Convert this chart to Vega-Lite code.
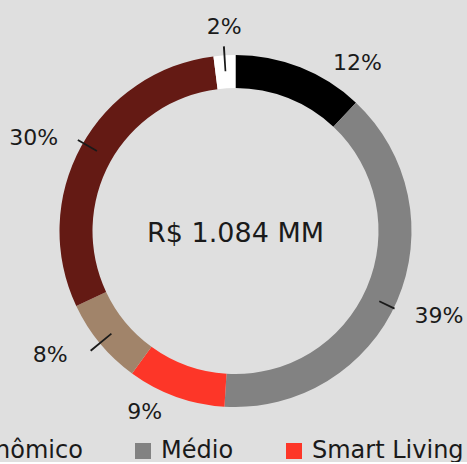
{
  "$schema": "https://vega.github.io/schema/vega-lite/v6.json",
  "width": 463,
  "height": 462,
  "padding": {"left": 4, "top": 0, "right": 0, "bottom": 0},
  "autosize": {"type": "none"},
  "background": "#dfdfdf",
  "title": {"text": "(VGV Estimado por tipo)", "fontSize": 22, "font": "DejaVu Sans", "fontWeight": "normal", "color": "#1a1a1a", "anchor": "middle", "orient": "top", "frame": "group", "offset": -2, "baseline": "alphabetic", "dx": -16},
  "config": {"view": {"stroke": null}, "font": "DejaVu Sans"},
  "data": {"values": [
    {"segmento": "Econômico", "pct": 12, "rotulo": "12%", "ordem": 1},
    {"segmento": "Médio", "pct": 39, "rotulo": "39%", "ordem": 2},
    {"segmento": "Smart Living", "pct": 9, "rotulo": "9%", "ordem": 3},
    {"segmento": "Médio-Alto", "pct": 8, "rotulo": "8%", "ordem": 4},
    {"segmento": "Alto Padrão", "pct": 30, "rotulo": "30%", "ordem": 5},
    {"segmento": "Outros", "pct": 2, "rotulo": "2%", "ordem": 6}
  ]},
  "encoding": {
    "theta": {"field": "pct", "type": "quantitative", "stack": true},
    "order": {"field": "ordem", "type": "quantitative"}
  },
  "layer": [
    {
      "mark": {"type": "arc", "innerRadius": 143, "outerRadius": 176, "stroke": null},
      "encoding": {
        "color": {
          "field": "segmento", "type": "nominal",
          "scale": {"domain": ["Econômico", "Médio", "Smart Living", "Médio-Alto", "Alto Padrão", "Outros"], "range": ["#000000", "#828282", "#fd3628", "#a1846a", "#641a14", "#ffffff"]},
          "legend": {"orient": "none", "legendX": -82, "legendY": 439, "direction": "horizontal", "columns": 6, "title": null, "symbolType": "square", "symbolSize": 256, "symbolStrokeWidth": 0, "labelFontSize": 24, "labelFont": "DejaVu Sans", "labelColor": "#1a1a1a", "labelOffset": 6, "columnPadding": 48, "padding": 0, "labelLimit": 0}
        }
      }
    },
    {
      "transform": [
        {"stack": "pct", "groupby": [], "sort": [{"field": "ordem", "order": "ascending"}], "as": ["ini", "fim"]},
        {"filter": "datum.segmento === 'Outros'"}
      ],
      "mark": {"type": "arc", "innerRadius": 160, "outerRadius": 185, "thetaOffset": 0.0576, "theta2Offset": -0.0576, "fill": "#1a1a1a", "stroke": null},
      "encoding": {"theta": {"field": "ini", "type": "quantitative"}, "theta2": {"field": "fim"}, "order": null}
    },
    {
      "transform": [
        {"stack": "pct", "groupby": [], "sort": [{"field": "ordem", "order": "ascending"}], "as": ["ini", "fim"]},
        {"filter": "datum.segmento === 'Alto Padrão'"}
      ],
      "mark": {"type": "arc", "innerRadius": 160, "outerRadius": 182, "thetaOffset": 0.9582, "theta2Offset": -0.9163, "fill": "#1a1a1a", "stroke": null},
      "encoding": {"theta": {"field": "ini", "type": "quantitative"}, "theta2": {"field": "fim"}, "order": null}
    },
    {
      "transform": [
        {"stack": "pct", "groupby": [], "sort": [{"field": "ordem", "order": "ascending"}], "as": ["ini", "fim"]},
        {"filter": "datum.segmento === 'Médio-Alto'"}
      ],
      "mark": {"type": "arc", "innerRadius": 161, "outerRadius": 188, "thetaOffset": 0.2461, "theta2Offset": -0.2461, "fill": "#1a1a1a", "stroke": null},
      "encoding": {"theta": {"field": "ini", "type": "quantitative"}, "theta2": {"field": "fim"}, "order": null}
    },
    {
      "transform": [
        {"stack": "pct", "groupby": [], "sort": [{"field": "ordem", "order": "ascending"}], "as": ["ini", "fim"]},
        {"filter": "datum.segmento === 'Médio'"}
      ],
      "mark": {"type": "arc", "innerRadius": 160, "outerRadius": 177, "thetaOffset": 1.2654, "theta2Offset": -1.1746, "fill": "#1a1a1a", "stroke": null},
      "encoding": {"theta": {"field": "ini", "type": "quantitative"}, "theta2": {"field": "fim"}, "order": null}
    },
    {
      "mark": {"type": "text", "radius": 212, "dx": 44, "dy": 29, "fontSize": 22, "color": "#1a1a1a", "align": "center", "baseline": "middle"},
      "encoding": {"text": {"condition": {"test": "datum.segmento === 'Econômico'", "field": "rotulo"}, "value": ""}}
    },
    {
      "mark": {"type": "text", "radius": 212, "dx": 9, "dy": 1, "fontSize": 22, "color": "#1a1a1a", "align": "center", "baseline": "middle"},
      "encoding": {"text": {"condition": {"test": "datum.segmento === 'Médio'", "field": "rotulo"}, "value": ""}}
    },
    {
      "mark": {"type": "text", "radius": 212, "dx": -19, "dy": -18, "fontSize": 22, "color": "#1a1a1a", "align": "center", "baseline": "middle"},
      "encoding": {"text": {"condition": {"test": "datum.segmento === 'Smart Living'", "field": "rotulo"}, "value": ""}}
    },
    {
      "mark": {"type": "text", "radius": 212, "dx": -22, "dy": -11, "fontSize": 22, "color": "#1a1a1a", "align": "center", "baseline": "middle"},
      "encoding": {"text": {"condition": {"test": "datum.segmento === 'Médio-Alto'", "field": "rotulo"}, "value": ""}}
    },
    {
      "mark": {"type": "text", "radius": 212, "dx": -16, "dy": 9, "fontSize": 22, "color": "#1a1a1a", "align": "center", "baseline": "middle"},
      "encoding": {"text": {"condition": {"test": "datum.segmento === 'Alto Padrão'", "field": "rotulo"}, "value": ""}}
    },
    {
      "mark": {"type": "text", "radius": 212, "dx": 2, "dy": 8, "fontSize": 22, "color": "#1a1a1a", "align": "center", "baseline": "middle"},
      "encoding": {"text": {"condition": {"test": "datum.segmento === 'Outros'", "field": "rotulo"}, "value": ""}}
    },
    {
      "data": {"values": [{"total": "R$ 1.084 MM"}]},
      "mark": {"type": "text", "fontSize": 27, "color": "#1a1a1a", "align": "center", "baseline": "middle", "dy": 3},
      "encoding": {"text": {"field": "total", "type": "nominal"}, "theta": null, "order": null}
    }
  ]
}
